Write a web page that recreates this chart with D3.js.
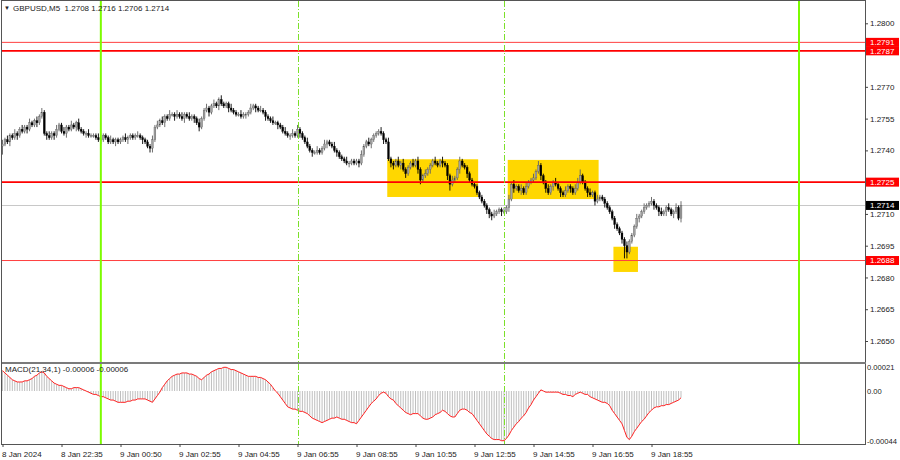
<!DOCTYPE html>
<html><head><meta charset="utf-8">
<script src="https://cdn.jsdelivr.net/npm/d3@7"></script>
<style>
html,body{margin:0;padding:0;background:#fff;}
svg{display:block;font-family:"Liberation Sans",Arial,sans-serif;}
</style></head><body>
<svg id="c" width="900" height="460"></svg>
<script>
// ---------------- DATA ----------------
const symbolName = "GBPUSD,M5";
const basePrice = 1.2700;          // closes / wicks are in pips above this base
const firstOpen = 42;
const closes = [
 43,45,44,47,46,48,47,50,49,51,50,53,52,54,53,56,58,48,47,46,48,47,50,52,
 49,48,51,50,52,51,53,50,49,48,48,47,47,47,46,45,45,47,46,44,45,44,45,44,
 45,46,45,46,47,46,47,47,46,45,44,42,41,45,51,52,54,53,56,55,57,57,56,57,
 56,55,57,56,55,56,55,53,51,55,59,60,58,61,62,61,64,62,61,62,60,59,58,57,
 57,56,57,57,58,60,61,60,59,59,58,56,55,54,53,53,52,51,49,48,47,47,48,47,
 50,48,46,44,42,40,39,39,40,39,41,43,44,43,42,40,39,37,36,35,34,34,35,34,
 35,34,38,42,44,43,45,47,48,49,48,45,44,36,34,33,35,33,34,31,29,32,34,33,
 35,31,26,28,29,31,33,35,34,33,35,34,33,28,24,26,27,31,35,33,32,29,26,24,
 23,20,18,16,14,12,10,9,10,11,12,11,11,13,17,24,22,23,21,22,20,23,25,26,
 27,30,33,28,25,22,20,23,25,24,22,20,19,21,23,22,20,22,25,28,25,22,20,19,
 20,16,17,18,17,15,13,11,8,5,3,1,-2,-5,-8,-3,0,4,8,9,11,13,14,15,
 16,14,13,11,10,11,13,12,10,11,13,8,14
];
const wickUp = [
 2,1,2,1,1,2,1,1,2,1,1,2,1,1,2,1,2,1,1,2,1,1,2,1,
 1,2,1,1,2,1,1,2,1,1,1,2,1,1,1,2,1,1,1,1,2,1,1,1,
 1,1,2,1,1,1,1,2,1,1,1,1,1,2,1,2,1,2,1,1,2,1,1,2,
 1,2,1,1,2,1,1,1,2,1,1,2,1,1,2,1,1,2,1,1,1,2,1,1,
 1,2,1,1,1,2,1,1,1,2,1,1,1,1,2,1,1,1,1,2,1,1,2,1,
 2,1,1,1,2,1,1,1,2,1,1,2,1,1,1,2,1,1,1,1,2,1,1,1,
 1,1,2,1,1,2,1,1,1,1,2,1,1,2,1,1,1,2,1,2,1,1,1,2,
 1,2,1,1,2,1,1,1,2,1,1,2,1,1,1,2,1,1,2,1,1,1,1,1,
 1,1,1,1,1,1,1,1,2,1,1,1,2,1,2,1,2,1,1,2,1,2,1,1,
 2,1,2,1,1,1,2,1,1,2,1,1,1,2,1,1,1,2,2,3,1,1,1,2,
 1,1,2,1,1,1,1,1,1,1,1,1,1,1,2,1,1,1,2,1,1,2,1,1,
 2,1,1,1,2,1,1,2,1,1,2,1,2
];
const wickDown = [
 4,1,1,2,1,1,2,1,1,1,2,1,1,1,2,1,1,1,2,1,1,2,1,1,
 1,1,2,1,1,1,2,1,1,1,2,1,1,1,1,1,2,1,1,1,1,1,2,1,
 1,1,1,2,1,1,1,1,1,2,1,1,2,2,1,1,1,1,2,1,1,1,2,1,
 1,1,2,1,1,1,2,1,2,1,1,1,2,1,1,1,2,1,1,1,2,1,1,1,
 1,1,1,2,1,1,1,2,1,1,1,2,1,1,1,1,2,1,1,1,1,2,1,1,
 1,2,1,1,1,1,2,1,1,1,1,1,2,1,1,1,2,1,1,1,1,2,1,1,
 1,2,1,1,1,1,2,1,1,1,1,2,1,1,2,2,1,1,2,1,2,1,1,1,
 1,2,2,1,1,1,2,1,1,1,1,2,1,2,3,1,1,1,2,1,1,2,1,1,
 1,1,1,1,1,2,2,2,1,1,1,2,1,1,2,1,2,1,1,2,1,1,1,1,
 1,1,1,2,1,2,1,1,2,1,1,2,1,1,1,2,1,1,1,1,1,1,2,1,
 1,2,1,1,1,2,1,1,1,2,1,1,2,6,3,1,1,1,1,2,1,1,1,1,
 1,2,1,2,1,1,2,1,1,2,1,1,2
];
// MACD(21,34,1) main value per bar, in units of 0.00001
const macdValues = [
 18,16,14,12,10,9,8,8,8,9,9,10,11,13,14,16,17,16,13,11,9,7,6,5,
 5,4,3,2,2,3,3,3,2,1,0,-1,-2,-3,-3,-4,-5,-5,-6,-7,-8,-8,-9,-10,
 -10,-10,-10,-9,-9,-8,-8,-7,-7,-7,-7,-8,-9,-10,-7,-4,-1,3,6,9,11,13,14,15,
 15,16,16,16,15,15,14,13,11,10,12,14,15,17,18,19,20,20,21,21,20,19,19,18,
 17,16,15,14,13,13,13,13,12,12,11,10,8,6,3,0,-2,-5,-8,-11,-14,-15,-16,-16,
 -17,-18,-18,-19,-20,-22,-24,-25,-26,-27,-28,-27,-26,-25,-24,-24,-23,-24,-25,-25,-26,-27,-28,-28,
 -29,-26,-23,-20,-17,-14,-11,-9,-7,-4,-2,-1,-2,-5,-7,-8,-11,-13,-15,-17,-19,-20,-21,-20,
 -20,-20,-22,-24,-25,-25,-24,-23,-21,-20,-19,-17,-18,-20,-22,-23,-23,-20,-17,-16,-16,-17,-19,-20,
 -23,-26,-29,-32,-35,-38,-40,-42,-43,-43,-43,-44,-44,-42,-39,-35,-32,-29,-27,-24,-22,-19,-15,-12,
 -8,-5,-2,1,0,-1,-1,-1,-1,-1,-1,-2,-3,-3,-4,-4,-5,-3,-2,-1,-2,-3,-3,-5,
 -6,-7,-8,-9,-10,-10,-11,-13,-17,-20,-23,-26,-29,-35,-41,-43,-40,-36,-33,-30,-27,-25,-22,-19,
 -17,-15,-14,-14,-13,-13,-12,-12,-11,-10,-9,-8,-6
];
const timeLabels = ["8 Jan 2024","8 Jan 22:35","9 Jan 00:50","9 Jan 02:55","9 Jan 04:55","9 Jan 06:55",
                    "9 Jan 08:55","9 Jan 10:55","9 Jan 12:55","9 Jan 14:55","9 Jan 16:55","9 Jan 18:55"];
const timeLabelBars = [0,24,48,72,96,120,144,168,192,216,240,264];
const priceTicks = [1.2650,1.2665,1.2680,1.2695,1.2710,1.2725,1.2740,1.2755,1.2770,1.2785,1.2800];
const macdTicks = [0.00021, 0.00000, -0.00044];
const levelPrices = [1.2791, 1.2787, 1.2725, 1.2688];
const thickLevels = [1.2787, 1.2725];
const sessionBars = [40, 324];      // solid green vertical lines
const dottedBars = [120, 204];      // dash-dot green vertical lines
const zones = [                       // highlighted rectangles (bar range, price range)
  {from:157, to:193, hi:1.27358, lo:1.27180},
  {from:206, to:242, hi:1.27355, lo:1.27170},
  {from:249, to:258, hi:1.26945, lo:1.26826}
];

// ---------------- LAYOUT ----------------
const n = closes.length;
if (wickUp.length!==n || wickDown.length!==n || macdValues.length!==n) {
  throw new Error("length mismatch " + [n, wickUp.length, wickDown.length, macdValues.length].join(","));
}
const loc = d3.formatLocale({decimal: ".", thousands: ",", grouping: [3], currency: ["", ""], minus: "-"});
const f4 = loc.format(".4f"), f5 = loc.format(".5f");
const L = 2, R = 865, mainTop = 1, mainBot = 362, macdTop = 364, macdBot = 444;
const FONT = "Liberation Sans, Arial, sans-serif";
const svg = d3.select("#c");
const x = d3.scaleLinear().domain([0, 24]).range([2.5, 61.5]);
const y = d3.scaleLinear().domain([1.2650, 1.2800]).range([341, 23.3]);
const ym = d3.scaleLinear().domain([-0.00044, 0.00021]).range([440.7, 367.3]);
const P = v => basePrice + v / 10000;

const bars = closes.map((c, i) => {
  const o = i === 0 ? firstOpen : closes[i - 1];
  return {i, o: P(o), c: P(c), h: P(Math.max(o, c) + wickUp[i]), l: P(Math.min(o, c) - wickDown[i])};
});

svg.append("rect").attr("width", 900).attr("height", 460).attr("fill", "#fff");

const defs = svg.append("defs");
defs.append("clipPath").attr("id", "cm").append("rect")
  .attr("x", L).attr("y", mainTop).attr("width", R - L).attr("height", mainBot - mainTop);
defs.append("clipPath").attr("id", "cd").append("rect")
  .attr("x", L).attr("y", macdTop).attr("width", R - L).attr("height", macdBot - macdTop);

const gm = svg.append("g").attr("clip-path", "url(#cm)");

// zones
gm.selectAll("rect.zone").data(zones).join("rect").attr("class", "zone")
  .attr("x", d => x(d.from) - 1.2).attr("width", d => x(d.to) - x(d.from) + 2.4)
  .attr("y", d => y(d.hi)).attr("height", d => y(d.lo) - y(d.hi))
  .attr("fill", "#FFD700");

// current price line
const last = bars[n - 1];
gm.append("line").attr("x1", L).attr("x2", R).attr("y1", Math.round(y(last.c)) + 0.5).attr("y2", Math.round(y(last.c)) + 0.5)
  .attr("stroke", "#C8C8C8").attr("stroke-width", 1);

// candles
const cg = gm.append("g");
cg.selectAll("line.wick").data(bars).join("line").attr("class", "wick")
  .attr("x1", d => x(d.i)).attr("x2", d => x(d.i))
  .attr("y1", d => y(d.h)).attr("y2", d => y(d.l))
  .attr("stroke", d => d.c >= d.o ? "#606060" : "#000").attr("stroke-width", 0.9);
cg.selectAll("rect.body").data(bars).join("rect").attr("class", "body")
  .attr("x", d => x(d.i) - 0.95).attr("width", 1.9)
  .attr("y", d => y(Math.max(d.o, d.c)))
  .attr("height", d => Math.max(0.8, Math.abs(y(d.o) - y(d.c))))
  .attr("fill", d => d.c >= d.o ? "#a0a0a0" : "#000")
  .attr("stroke", d => d.c >= d.o ? "#505050" : "#000").attr("stroke-width", 0.3);

// horizontal levels
gm.selectAll("line.lvl").data(levelPrices).join("line").attr("class", "lvl")
  .attr("x1", L).attr("x2", R)
  .attr("y1", d => y(d)).attr("y2", d => y(d))
  .attr("stroke", d => thickLevels.includes(d) ? "#FF0000" : "#FF4040")
  .attr("stroke-width", d => thickLevels.includes(d) ? 1.8 : 1);

// MACD panel
const gd = svg.append("g").attr("clip-path", "url(#cd)");
gd.selectAll("line.hist").data(macdValues).join("line").attr("class", "hist")
  .attr("x1", (d, i) => x(i)).attr("x2", (d, i) => x(i))
  .attr("y1", ym(0)).attr("y2", d => ym(d / 100000))
  .attr("stroke", "#B8B8B8").attr("stroke-width", 0.9);
gd.append("path").datum(macdValues)
  .attr("d", d3.line().x((d, i) => x(i)).y(d => ym(d / 100000)))
  .attr("fill", "none").attr("stroke", "#FF2020").attr("stroke-width", 1);

// vertical lines over both panels
const vg = svg.append("g");
vg.selectAll("line.sess").data(sessionBars).join("line").attr("class", "sess")
  .attr("x1", d => x(d)).attr("x2", d => x(d)).attr("y1", mainTop).attr("y2", macdBot)
  .attr("stroke", "#7CFC00").attr("stroke-width", 2);
vg.selectAll("line.dot").data(dottedBars).join("line").attr("class", "dot")
  .attr("x1", d => Math.round(x(d)) + 0.5).attr("x2", d => Math.round(x(d)) + 0.5).attr("y1", mainTop).attr("y2", macdBot)
  .attr("stroke", "#7CE02A").attr("stroke-width", 1).attr("stroke-dasharray", "6,2,1,2");

// borders
svg.append("rect").attr("x", L - 0.5).attr("y", mainTop - 0.5).attr("width", R - L + 1).attr("height", mainBot - mainTop + 1)
  .attr("fill", "none").attr("stroke", "#555").attr("stroke-width", 1);
svg.append("rect").attr("x", L - 0.5).attr("y", macdTop - 0.5).attr("width", R - L + 1).attr("height", macdBot - macdTop + 1)
  .attr("fill", "none").attr("stroke", "#555").attr("stroke-width", 1);
svg.append("line").attr("x1", L).attr("x2", R + 1).attr("y1", mainBot + 1).attr("y2", mainBot + 1)
  .attr("stroke", "#888").attr("stroke-width", 1.5);

// price axis (tick text hidden under the level tags is not drawn)
const tagPrices = levelPrices.concat([last.c]);
const visibleTicks = priceTicks.filter(t => !tagPrices.some(p => Math.abs(y(p) - y(t)) < 7));
const ya = svg.append("g").attr("transform", `translate(${R},0)`)
  .call(d3.axisRight(y).tickValues(visibleTicks).tickFormat(f4).tickSize(3).tickPadding(2));
ya.select(".domain").remove();
ya.selectAll("text").attr("font-size", 8).attr("fill", "#222").attr("font-family", FONT);
ya.selectAll("line").attr("stroke", "#444");

// MACD axis
const ma = svg.append("g").attr("transform", `translate(${R},0)`)
  .call(d3.axisRight(ym).tickValues(macdTicks).tickFormat(d => d === 0 ? "0.00" : f5(d)).tickSize(0).tickPadding(2));
ma.select(".domain").remove();
ma.selectAll("text").attr("font-size", 7.6).attr("fill", "#222").attr("font-family", FONT);

// level labels on price axis
const lbl = svg.append("g");
const tagData = levelPrices.map(p => ({p, fill: "#FF0000"})).concat([{p: last.c, fill: "#000"}]);
lbl.selectAll("rect").data(tagData).join("rect")
  .attr("x", R + 1).attr("width", 33).attr("y", d => y(d.p) - 4.5).attr("height", 9)
  .attr("fill", d => d.fill);
lbl.selectAll("text").data(tagData).join("text")
  .attr("x", R + 5).attr("y", d => y(d.p)).attr("dy", "0.34em")
  .attr("font-size", 8).attr("fill", "#fff").attr("font-family", FONT).text(d => f4(d.p));

// time axis
const xa = svg.append("g").attr("transform", `translate(0,${macdBot})`)
  .call(d3.axisBottom(x).tickValues(timeLabelBars).tickFormat((d, k) => timeLabels[k]).tickSize(3).tickPadding(4));
xa.select(".domain").remove();
xa.selectAll("line").attr("stroke", "#444");
xa.selectAll("text").attr("text-anchor", "start").attr("dx", -1).attr("font-size", 8).attr("fill", "#222")
  .attr("font-family", FONT);

// titles
svg.append("text").attr("x", 4).attr("y", 10).attr("font-size", 6).attr("fill", "#222").text("▼");
svg.append("text").attr("x", 13).attr("y", 11).attr("font-size", 8).attr("fill", "#222").attr("font-family", FONT)
  .attr("xml:space", "preserve")
  .text(`${symbolName}  ${f4(last.o)} ${f4(last.h)} ${f4(last.l)} ${f4(last.c)}`);
const lastMacd = macdValues[n - 1] / 100000;
svg.append("text").attr("x", 5).attr("y", macdTop + 8).attr("font-size", 8).attr("fill", "#222").attr("font-family", FONT)
  .text(`MACD(21,34,1) ${f5(lastMacd)} ${f5(lastMacd)}`);
</script>
</body></html>
